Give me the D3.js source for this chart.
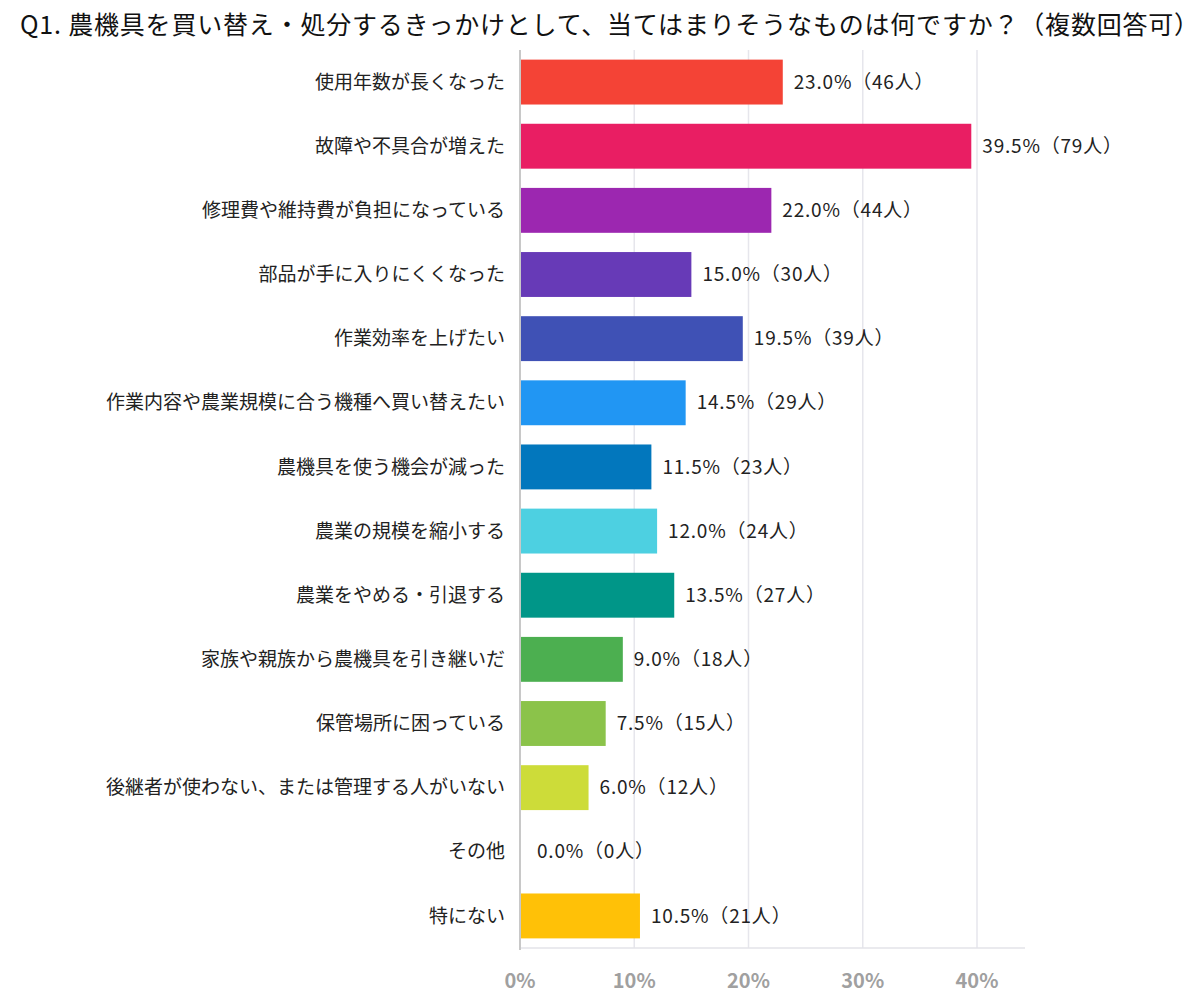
<!DOCTYPE html>
<html>
<head>
<meta charset="utf-8">
<script src="https://cdn.jsdelivr.net/npm/d3@7"></script>
<style>
  body { margin: 0; background: #fff; }
  text { font-family: "Noto Sans CJK JP", "Noto Sans", sans-serif; }
</style>
</head>
<body>
<script>
const title = "Q1. 農機具を買い替え・処分するきっかけとして、当てはまりそうなものは何ですか？（複数回答可）";

const categories = [
    "使用年数が長くなった",
    "故障や不具合が増えた",
    "修理費や維持費が負担になっている",
    "部品が手に入りにくくなった",
    "作業効率を上げたい",
    "作業内容や農業規模に合う機種へ買い替えたい",
    "農機具を使う機会が減った",
    "農業の規模を縮小する",
    "農業をやめる・引退する",
    "家族や親族から農機具を引き継いだ",
    "保管場所に困っている",
    "後継者が使わない、または管理する人がいない",
    "その他",
    "特にない"
];
const percents = [23.0, 39.5, 22.0, 15.0, 19.5, 14.5, 11.5, 12.0, 13.5, 9.0, 7.5, 6.0, 0.0, 10.5];
const counts = [46, 79, 44, 30, 39, 29, 23, 24, 27, 18, 15, 12, 0, 21];
const tickValues = [0, 10, 20, 30, 40];

const palette = ["#F44336", "#E91E63", "#9C27B0", "#673AB7", "#3F51B5", "#2196F3", "#0277BD",
    "#4DD0E1", "#009688", "#4CAF50", "#8BC34A", "#CDDC39", "#9E9E9E", "#FFC107"];

var w = 1200;
var h = 1000;

var svg = d3.select("body")
    .append("svg")
    .attr("width", w)
    .attr("height", h);

svg.append("text")
    .attr("x", 20)
    .attr("y", 34)
    .attr("font-size", 25)
    .attr("letter-spacing", 0.8)
    .attr("fill", "#111")
    .text(title);

var x = d3.scaleLinear()
    .domain([0, 40])
    .range([520, 977]);

var y = d3.scaleBand()
    .domain(categories)
    .range([50, 948])
    .paddingInner(0.3)
    .paddingOuter(0.15);

// vertical gridlines
svg.selectAll("line.grid")
    .data(tickValues.slice(1))
    .enter()
    .append("line")
    .attr("class", "grid")
    .attr("x1", d => x(d))
    .attr("x2", d => x(d))
    .attr("y1", 50)
    .attr("y2", 948)
    .attr("stroke", "#e6e6ec")
    .attr("stroke-width", 1.5);

// bottom axis line
svg.append("line")
    .attr("x1", x(0))
    .attr("x2", 1025)
    .attr("y1", 948)
    .attr("y2", 948)
    .attr("stroke", "#e3e3e8")
    .attr("stroke-width", 1.5);

svg.selectAll("rect.bar")
    .data(percents)
    .enter()
    .append("rect")
    .attr("class", "bar")
    .attr("x", x(0))
    .attr("y", (d, i) => y(categories[i]))
    .attr("width", d => x(d) - x(0))
    .attr("height", y.bandwidth())
    .attr("fill", (d, i) => palette[i]);

// zero line
svg.append("line")
    .attr("x1", x(0))
    .attr("x2", x(0))
    .attr("y1", 50)
    .attr("y2", 950)
    .attr("stroke", "#c8c8c8")
    .attr("stroke-width", 2);

svg.selectAll("text.cat")
    .data(categories)
    .enter()
    .append("text")
    .attr("class", "cat")
    .attr("x", 505)
    .attr("y", d => y(d) + y.bandwidth() / 2)
    .attr("dy", "0.35em")
    .attr("text-anchor", "end")
    .attr("font-size", 19)
    .attr("fill", "#222")
    .text(d => d);

svg.selectAll("text.val")
    .data(percents)
    .enter()
    .append("text")
    .attr("class", "val")
    .attr("x", d => x(d) + (d === 0 ? 17 : 11))
    .attr("y", (d, i) => y(categories[i]) + y.bandwidth() / 2)
    .attr("dy", "0.35em")
    .attr("font-size", 19)
    .attr("letter-spacing", 0.8)
    .attr("fill", "#222")
    .text((d, i) => d.toFixed(1) + "%（" + counts[i] + "人）");

svg.selectAll("text.tick")
    .data(tickValues)
    .enter()
    .append("text")
    .attr("class", "tick")
    .attr("x", d => x(d))
    .attr("y", 981)
    .attr("dy", "0.35em")
    .attr("text-anchor", "middle")
    .attr("font-size", 20)
    .attr("font-weight", "bold")
    .attr("fill", "#a0a0a0")
    .text(d => d + "%");
</script>
</body>
</html>
